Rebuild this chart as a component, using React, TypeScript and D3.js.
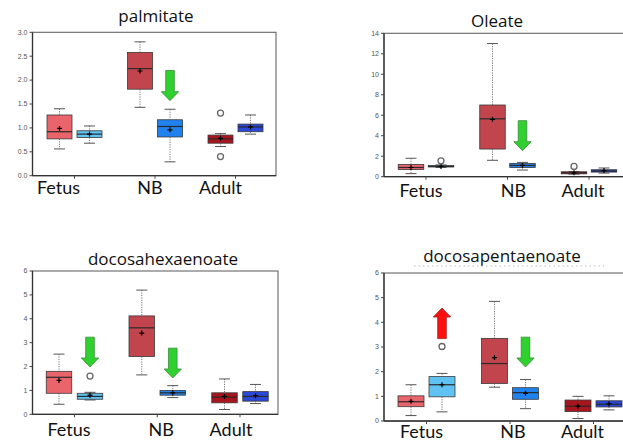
import React from 'react';
import * as d3 from 'd3';

// Box stats per slot: [whiskerLow, q1, median, q3, whiskerHigh, mean]
// slot order: Fetus red, Fetus blue, NB red, NB blue, Adult red, Adult blue
const categories = ['Fetus', 'NB', 'Adult'];
const slotColors = ['#ea646c', '#5fc2f3', '#c2454d', '#1f82ee', '#a8151d', '#2a48d8'];

const palmitateBoxes = [
  [0.56, 0.77, 0.92, 1.27, 1.40, 0.99],
  [0.68, 0.80, 0.87, 0.94, 1.04, 0.87],
  [1.43, 1.81, 2.24, 2.58, 2.80, 2.19],
  [0.29, 0.81, 1.03, 1.17, 1.39, 0.96],
  [0.61, 0.68, 0.77, 0.85, 0.88, 0.78],
  [0.87, 0.92, 1.02, 1.08, 1.27, 1.02],
];
const palmitateOutliers = [[], [], [], [], [1.31, 0.40], []];

const oleateBoxes = [
  [0.30, 0.70, 0.90, 1.20, 1.80, 0.90],
  [0.90, 0.95, 1.00, 1.10, 1.15, 1.00],
  [1.60, 2.70, 5.65, 7.00, 13.0, 5.60],
  [0.65, 0.90, 1.10, 1.30, 1.40, 1.10],
  [0.25, 0.28, 0.38, 0.48, 0.50, 0.38],
  [0.35, 0.45, 0.55, 0.68, 0.85, 0.60],
];
const oleateOutliers = [[], [1.55], [], [], [1.0], []];

const dhaBoxes = [
  [0.42, 0.88, 1.55, 1.80, 2.52, 1.42],
  [0.60, 0.63, 0.75, 0.88, 0.92, 0.80],
  [1.65, 2.42, 3.62, 4.12, 5.20, 3.40],
  [0.70, 0.80, 0.90, 1.00, 1.20, 0.90],
  [0.20, 0.48, 0.72, 0.90, 1.48, 0.75],
  [0.45, 0.55, 0.75, 0.95, 1.25, 0.78],
];
const dhaOutliers = [[], [1.60], [], [], [], []];

const dpaBoxes = [
  [0.22, 0.58, 0.78, 1.02, 1.47, 0.80],
  [0.37, 0.98, 1.47, 1.80, 1.93, 1.47],
  [1.37, 1.52, 2.33, 3.35, 4.85, 2.57],
  [0.50, 0.88, 1.15, 1.35, 1.68, 1.12],
  [0.10, 0.38, 0.60, 0.85, 1.00, 0.60],
  [0.45, 0.57, 0.68, 0.82, 1.02, 0.70],
];
const dpaOutliers = [[], [3.02], [], [], [], []];

// arrows: [category, start value, tip value, colour]
const palmitateArrows = [['NB', 2.2, 1.57, 'green']];
const oleateArrows = [['NB', 5.47, 2.54, 'green']];
const dhaArrows = [['Fetus', 3.23, 1.98, 'green'], ['NB', 2.77, 1.52, 'green']];
const dpaArrows = [['Fetus', 3.34, 4.58, 'red'], ['NB', 3.4, 2.19, 'green']];

const panels = [
  {
    title: 'palmitate', boxes: palmitateBoxes, outliers: palmitateOutliers, arrows: palmitateArrows,
    yMax: 3, yStep: 0.5, fmt: '.1f',
    left: 32.5, right: 276, top: 32.3, bottom: 175.7, groupRange: [74.5, 235.5], off: 15, boxW: 25,
    titleX: 156, titleY: 22, labelY: 194, labelDx: [-16, -5, -15],
  },
  {
    title: 'Oleate', boxes: oleateBoxes, outliers: oleateOutliers, arrows: oleateArrows,
    yMax: 14, yStep: 2, fmt: 'd',
    left: 384, right: 640, top: 33.3, bottom: 176.7, groupRange: [426, 589], off: 15, boxW: 25.5,
    titleX: 497, titleY: 27, labelY: 197, labelDx: [-5, 6, -6],
  },
  {
    title: 'docosahexaenoate', boxes: dhaBoxes, outliers: dhaOutliers, arrows: dhaArrows,
    yMax: 6, yStep: 1, fmt: 'd',
    left: 32.5, right: 278, top: 271, bottom: 414.3, groupRange: [74.5, 240], off: 15.5, boxW: 25.5,
    titleX: 163, titleY: 265, labelY: 436, labelDx: [-5.5, 4, -9],
  },
  {
    title: 'docosapentaenoate', boxes: dpaBoxes, outliers: dpaOutliers, arrows: dpaArrows,
    yMax: 6, yStep: 1, fmt: 'd',
    left: 384, right: 640, top: 273, bottom: 421, groupRange: [426.5, 593.5], off: 15.5, boxW: 26,
    titleX: 502, titleY: 262, labelY: 438, labelDx: [-5, 3, -11],
  },
];

const arrowPath = (cx: number, y0: number, y1: number) => {
  const dir = y1 > y0 ? 1 : -1;
  const hb = y1 - dir * 9;
  return `M${cx - 4.3},${y0}L${cx + 4.3},${y0}L${cx + 4.3},${hb}L${cx + 8.7},${hb}L${cx},${y1}L${cx - 8.7},${hb}L${cx - 4.3},${hb}Z`;
};

const Panel = ({ p }: { p: any }) => {
  const y = d3.scaleLinear().domain([0, p.yMax]).range([p.bottom, p.top]);
  const x = d3.scalePoint().domain(categories).range(p.groupRange);
  const ticks = d3.range(0, p.yMax + p.yStep / 2, p.yStep);
  const fmt = d3.format(p.fmt);
  const slotX = (i: number) => (x(categories[Math.floor(i / 2)]) as number) + (i % 2 === 0 ? -p.off : p.off);

  return (
    <g>
      <text x={p.titleX} y={p.titleY} textAnchor="middle" fontFamily="'Open Sans', sans-serif" fontSize={17} fill="#111">
        {p.title}
      </text>
      {/* frame */}
      <rect x={p.left} y={p.top} width={p.right - p.left} height={p.bottom - p.top} fill="none" stroke="#666" strokeWidth={1.1} />
      <line x1={p.left} x2={p.left} y1={p.top} y2={p.bottom} stroke="#333" strokeWidth={1.3} />
      <line x1={p.left} x2={p.right} y1={p.bottom} y2={p.bottom} stroke="#333" strokeWidth={1.3} />
      {ticks.map((t) => (
        <g key={t}>
          <line x1={p.left - 3} x2={p.left} y1={y(t)} y2={y(t)} stroke="#444" />
          <text x={p.left - 5} y={y(t)} dy="0.33em" textAnchor="end" fontFamily="'Liberation Sans', Arial, sans-serif" fontSize={7} fill="#555">
            {fmt(t)}
          </text>
        </g>
      ))}
      {categories.map((c, i) => (
        <g key={c}>
          <line x1={x(c)} x2={x(c)} y1={p.bottom} y2={p.bottom + 3} stroke="#444" />
          <text x={(x(c) as number) + p.labelDx[i]} y={p.labelY} textAnchor="middle" fontFamily="Lato, 'Open Sans', sans-serif" fontSize={18} fill="#111">
            {c}
          </text>
        </g>
      ))}
      {p.boxes.map((b: number[], i: number) => {
        const cx = slotX(i);
        const [lo, q1, med, q3, hi, mean] = b;
        return (
          <g key={i}>
            <line x1={cx} x2={cx} y1={y(hi)} y2={y(q3)} stroke="#777" strokeDasharray="1.2,1.2" />
            <line x1={cx} x2={cx} y1={y(q1)} y2={y(lo)} stroke="#777" strokeDasharray="1.2,1.2" />
            <line x1={cx - 5.5} x2={cx + 5.5} y1={y(hi)} y2={y(hi)} stroke="#555" strokeWidth={1} />
            <line x1={cx - 5.5} x2={cx + 5.5} y1={y(lo)} y2={y(lo)} stroke="#555" strokeWidth={1} />
            <rect x={cx - p.boxW / 2} y={y(q3)} width={p.boxW} height={Math.max(1, y(q1) - y(q3))} fill={slotColors[i]} stroke="#3a3a3a" strokeWidth={0.8} />
            <line x1={cx - p.boxW / 2} x2={cx + p.boxW / 2} y1={y(med)} y2={y(med)} stroke="#2a2a2a" strokeWidth={1.2} />
            <path d={`M${cx - 2.5},${y(mean)}H${cx + 2.5}M${cx},${y(mean) - 2.5}V${y(mean) + 2.5}`} stroke="#000" strokeWidth={1.2} />
            {p.outliers[i].map((o: number, k: number) => (
              <circle key={k} cx={cx} cy={y(o)} r={3} fill="#fff" stroke="#666" strokeWidth={1.3} />
            ))}
          </g>
        );
      })}
      {p.arrows.map((a: any[], k: number) => {
        const cx = (x(a[0]) as number) + p.off;
        const green = a[3] === 'green';
        return (
          <path key={k} d={arrowPath(cx, y(a[1]), y(a[2]))} fill={green ? '#2fd12f' : '#ff1010'} stroke={green ? '#3a8a3a' : '#9a2020'} strokeWidth={0.8} />
        );
      })}
    </g>
  );
};

export default function App() {
  return (
    <svg width={623} height={444} style={{ position: 'absolute', left: 0, top: 0, background: '#fff' }}>
      <rect width={623} height={444} fill="#fff" />
      {panels.map((p) => (
        <Panel key={p.title} p={p} />
      ))}
      <line x1={414} x2={604} y1={266} y2={266} stroke="#bbb" strokeDasharray="1.5,3" />
    </svg>
  );
}
